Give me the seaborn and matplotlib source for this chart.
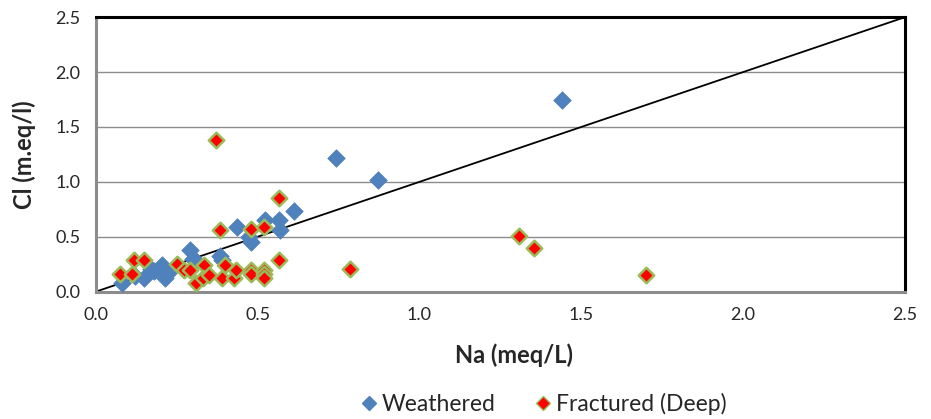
import matplotlib
matplotlib.use("Agg")
import matplotlib.pyplot as plt
import seaborn as sns
import pandas as pd
import numpy as np
from matplotlib.lines import Line2D

# Weathered samples
weathered_na = [0.08, 0.12, 0.15, 0.17, 0.18, 0.205, 0.215, 0.225, 0.29, 0.30, 0.31,
                0.385, 0.39, 0.437, 0.473, 0.478, 0.524, 0.566, 0.568, 0.612,
                0.741, 0.871, 1.44]
weathered_cl = [0.08, 0.14, 0.12, 0.21, 0.19, 0.24, 0.12, 0.18, 0.38, 0.30, 0.28,
                0.32, 0.29, 0.59, 0.50, 0.45, 0.65, 0.65, 0.56, 0.73,
                1.215, 1.015, 1.75]

# Fractured (Deep) samples
fractured_na = [0.076, 0.112, 0.117, 0.148, 0.251, 0.272, 0.292, 0.308, 0.333, 0.331,
                0.349, 0.37, 0.385, 0.39, 0.40, 0.426, 0.434, 0.478, 0.478, 0.478,
                0.521, 0.521, 0.521, 0.521, 0.565, 0.565, 0.784, 1.307, 1.353, 1.70]
fractured_cl = [0.16, 0.16, 0.29, 0.29, 0.25, 0.20, 0.20, 0.08, 0.24, 0.12,
                0.15, 1.38, 0.56, 0.12, 0.24, 0.12, 0.20, 0.57, 0.20, 0.16,
                0.59, 0.20, 0.16, 0.12, 0.85, 0.29, 0.21, 0.51, 0.40, 0.15]

series_names = ["Weathered", "Fractured (Deep)"]
ticks = [0.0, 0.5, 1.0, 1.5, 2.0, 2.5]

df = pd.concat([
    pd.DataFrame({"Na": weathered_na, "Cl": weathered_cl, "Group": series_names[0]}),
    pd.DataFrame({"Na": fractured_na, "Cl": fractured_cl, "Group": series_names[1]}),
], ignore_index=True)

sns.set_style("white")
plt.rcParams['font.family'] = ['Lato', 'DejaVu Sans']

fig = plt.figure(figsize=(9.31, 4.19), dpi=100)
ax = fig.add_axes([0.103, 0.304, 0.869, 0.655])

grid_color = "#8c8c8c"
for yv in ticks[1:-1]:
    ax.axhline(yv, color=grid_color, lw=1.0, zorder=0)

# 1:1 line
ax.plot([0, 2.5], [0, 2.5], color="black", lw=1.3, zorder=1)

sns.scatterplot(data=df[df.Group == series_names[0]], x="Na", y="Cl", marker="D",
                color="#4F81BD", edgecolor="#4F81BD", s=80, linewidth=0.5,
                ax=ax, zorder=3, legend=False)
sns.scatterplot(data=df[df.Group == series_names[1]], x="Na", y="Cl", marker="D",
                color="#FF0000", edgecolor="#9BBB59", s=62, linewidth=1.8,
                ax=ax, zorder=4, legend=False)

ax.set_xlim(0, 2.5)
ax.set_ylim(0, 2.5)
ax.set_xticks(ticks)
ax.set_yticks(ticks)
ax.set_xticklabels([f"{t:.1f}" for t in ticks], fontsize=13)
ax.set_yticklabels([f"{t:.1f}" for t in ticks], fontsize=13)
ax.tick_params(axis="both", direction="out", length=5, width=1, color=grid_color, pad=6)

for side in ["left", "bottom"]:
    ax.spines[side].set_color(grid_color)
    ax.spines[side].set_linewidth(2.2)
for side in ["top", "right"]:
    ax.spines[side].set_color("black")
    ax.spines[side].set_linewidth(2.2)

ax.set_xlabel("Na (meq/L)", fontsize=17, fontweight="bold", labelpad=10)
ax.xaxis.set_label_coords(0.517, -0.19)
ax.set_ylabel("Cl (m.eq/l)", fontsize=17, fontweight="bold")
ax.yaxis.set_label_coords(-0.074, 0.5)

handles = [
    Line2D([], [], marker="D", ls="none", color="#4F81BD", markersize=7),
    Line2D([], [], marker="D", ls="none", markerfacecolor="#FF0000",
           markeredgecolor="#9BBB59", markeredgewidth=1.0, markersize=7),
]
fig.legend(handles, series_names, loc="center", bbox_to_anchor=(0.582, 0.036),
           ncol=2, frameon=False, fontsize=16.5, handletextpad=0.05,
           columnspacing=1.6, handlelength=1.0)

fig.savefig("out.png", dpi=100)
